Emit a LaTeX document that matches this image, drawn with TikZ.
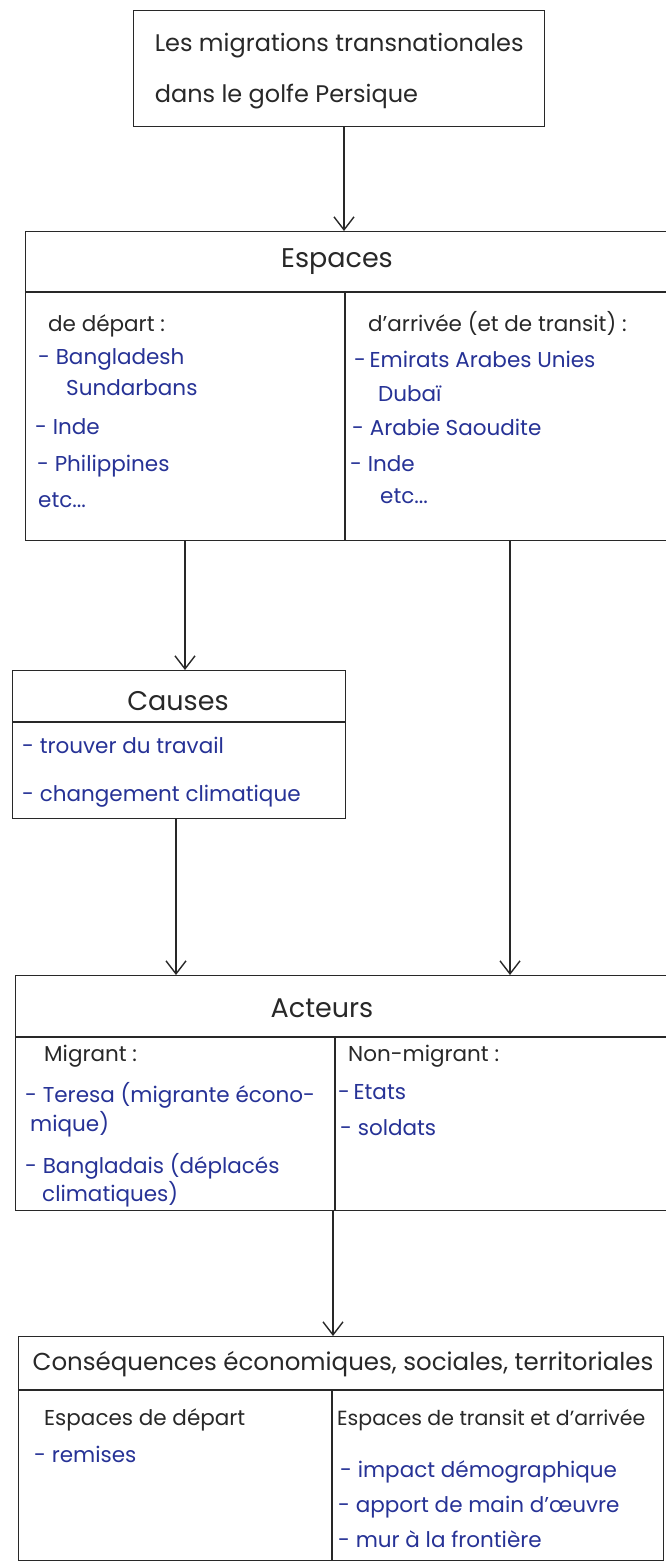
\documentclass[tikz,border=0pt]{standalone}
\usepackage{fontspec}
\setmainfont{Poppins}
\usetikzlibrary{arrows.meta}
\definecolor{ink}{RGB}{40,40,40}
\definecolor{penblue}{RGB}{38,50,150}
\tikzset{
  boxline/.style={draw=ink, line width=1.4pt},
  frame/.style={boxline, rectangle, inner sep=0pt, anchor=north west},
  arr/.style={draw=ink, line width=1.4pt, -{Straight Barb[length=13pt,width=20pt,line width=1.4pt]}},
  hd/.style={font=\fontsize{27}{32}\selectfont, text=ink, inner sep=0pt},
  lab/.style={font=\fontsize{21.5}{26}\selectfont, text=ink, anchor=base west, inner sep=0pt},
  itm/.style={font=\fontsize{21.5}{26}\selectfont, text=penblue, anchor=base west, inner sep=0pt},
  ttl/.style={font=\fontsize{24}{51}\selectfont, text=ink, align=left, inner sep=0pt}
}
\begin{document}
\begin{tikzpicture}[x=1pt,y=-1pt]
\useasboundingbox[fill=white] (0,0) rectangle (665,1566);

% ---------- Title ----------
\node[frame, minimum width=411pt, minimum height=116pt] (title) at (133,10) {};
\node[ttl] (titletext) at ([yshift=-2pt]title.center) {Les migrations transnationales\\dans le golfe Persique};

% ---------- Espaces ----------
\node[frame, minimum width=642pt, minimum height=309pt] (espaces) at (25,231) {};
\coordinate (eh) at (25,292);
\draw[boxline] (eh) -- (eh -| espaces.east);
\coordinate (ed) at (345,292);
\draw[boxline] (ed) -- (ed |- espaces.south);
\node[hd] (esptitle) at (337,262) {Espaces};
\node[lab] (dep) at (48,331) {de départ :};
\node[itm] (d1) at (38,364) {- Bangladesh};
\node[itm] (d1b) at (66,395) {Sundarbans};
\node[itm] (d2) at (35,434) {- Inde};
\node[itm] (d3) at (37,471) {- Philippines};
\node[itm] (d4) at (38,507) {etc...};
\node[lab] (arr) at (368,331) {d'arrivée (et de transit) :};
\node[itm] (a1) at (354,367) {-\,Emirats Arabes Unies};
\node[itm] (a1b) at (378,401) {Dubaï};
\node[itm] (a2) at (352,435) {- Arabie Saoudite};
\node[itm] (a3) at (350,471) {- Inde};
\node[itm] (a4) at (380,503) {etc...};

% ---------- Causes ----------
\node[frame, minimum width=333pt, minimum height=148pt] (causes) at (12,670) {};
\coordinate (ch) at (12,722);
\draw[boxline] (ch) -- (ch -| causes.east);
\node[hd] (causetitle) at (178,701) {Causes};
\node[itm] (c1) at (22,753) {- trouver du travail};
\node[itm] (c2) at (22,801) {- changement climatique};

% ---------- Acteurs ----------
\node[frame, minimum width=652pt, minimum height=235pt] (acteurs) at (15,975) {};
\coordinate (ah) at (15,1037);
\draw[boxline] (ah) -- (ah -| acteurs.east);
\coordinate (ad) at (335,1037);
\draw[boxline] (ad) -- (ad |- acteurs.south);
\node[hd] (acttitle) at (322,1008) {Acteurs};
\node[lab] (mig) at (44,1061) {Migrant :};
\node[itm] (m1) at (25,1102) {- Teresa (migrante écono-};
\node[itm] (m1b) at (30,1131) {mique)};
\node[itm] (m2) at (25,1173) {- Bangladais (déplacés};
\node[itm] (m2b) at (42,1201) {climatiques)};
\node[lab] (nmig) at (348,1061) {Non-migrant :};
\node[itm] (n1) at (338,1099) {-\,Etats};
\node[itm] (n2) at (340,1135) {- soldats};

% ---------- Consequences ----------
\node[frame, minimum width=645pt, minimum height=224pt] (cons) at (18,1336) {};
\coordinate (kh) at (18,1390);
\draw[boxline] (kh) -- (kh -| cons.east);
\coordinate (kd) at (332,1390);
\draw[boxline] (kd) -- (kd |- cons.south);
\node[hd, font=\fontsize{24.5}{28}\selectfont] (constitle) at (343,1364) {Conséquences économiques, sociales, territoriales};
\node[lab] (kl) at (44,1425) {Espaces de départ};
\node[itm] (k1) at (34,1462) {- remises};
\node[lab, font=\fontsize{20.5}{24}\selectfont] (kr) at (337,1425) {Espaces de transit et d'arrivée};
\node[itm] (k2) at (340,1477) {- impact démographique};
\node[itm] (k3) at (338,1512) {- apport de main d'œuvre};
\node[itm] (k4) at (338,1547) {- mur à la frontière};

% ---------- Connectors ----------
\coordinate (x1) at (344,0);
\draw[arr] (title.south -| x1) -- (espaces.north -| x1);
\coordinate (x2) at (185,0);
\draw[arr] (espaces.south -| x2) -- (causes.north -| x2);
\coordinate (x3) at (510,0);
\draw[arr] (espaces.south -| x3) -- (acteurs.north -| x3);
\coordinate (x4) at (176,0);
\draw[arr] (causes.south -| x4) -- (acteurs.north -| x4);
\coordinate (x5) at (333,0);
\draw[arr] (acteurs.south -| x5) -- (cons.north -| x5);
\end{tikzpicture}
\end{document}
